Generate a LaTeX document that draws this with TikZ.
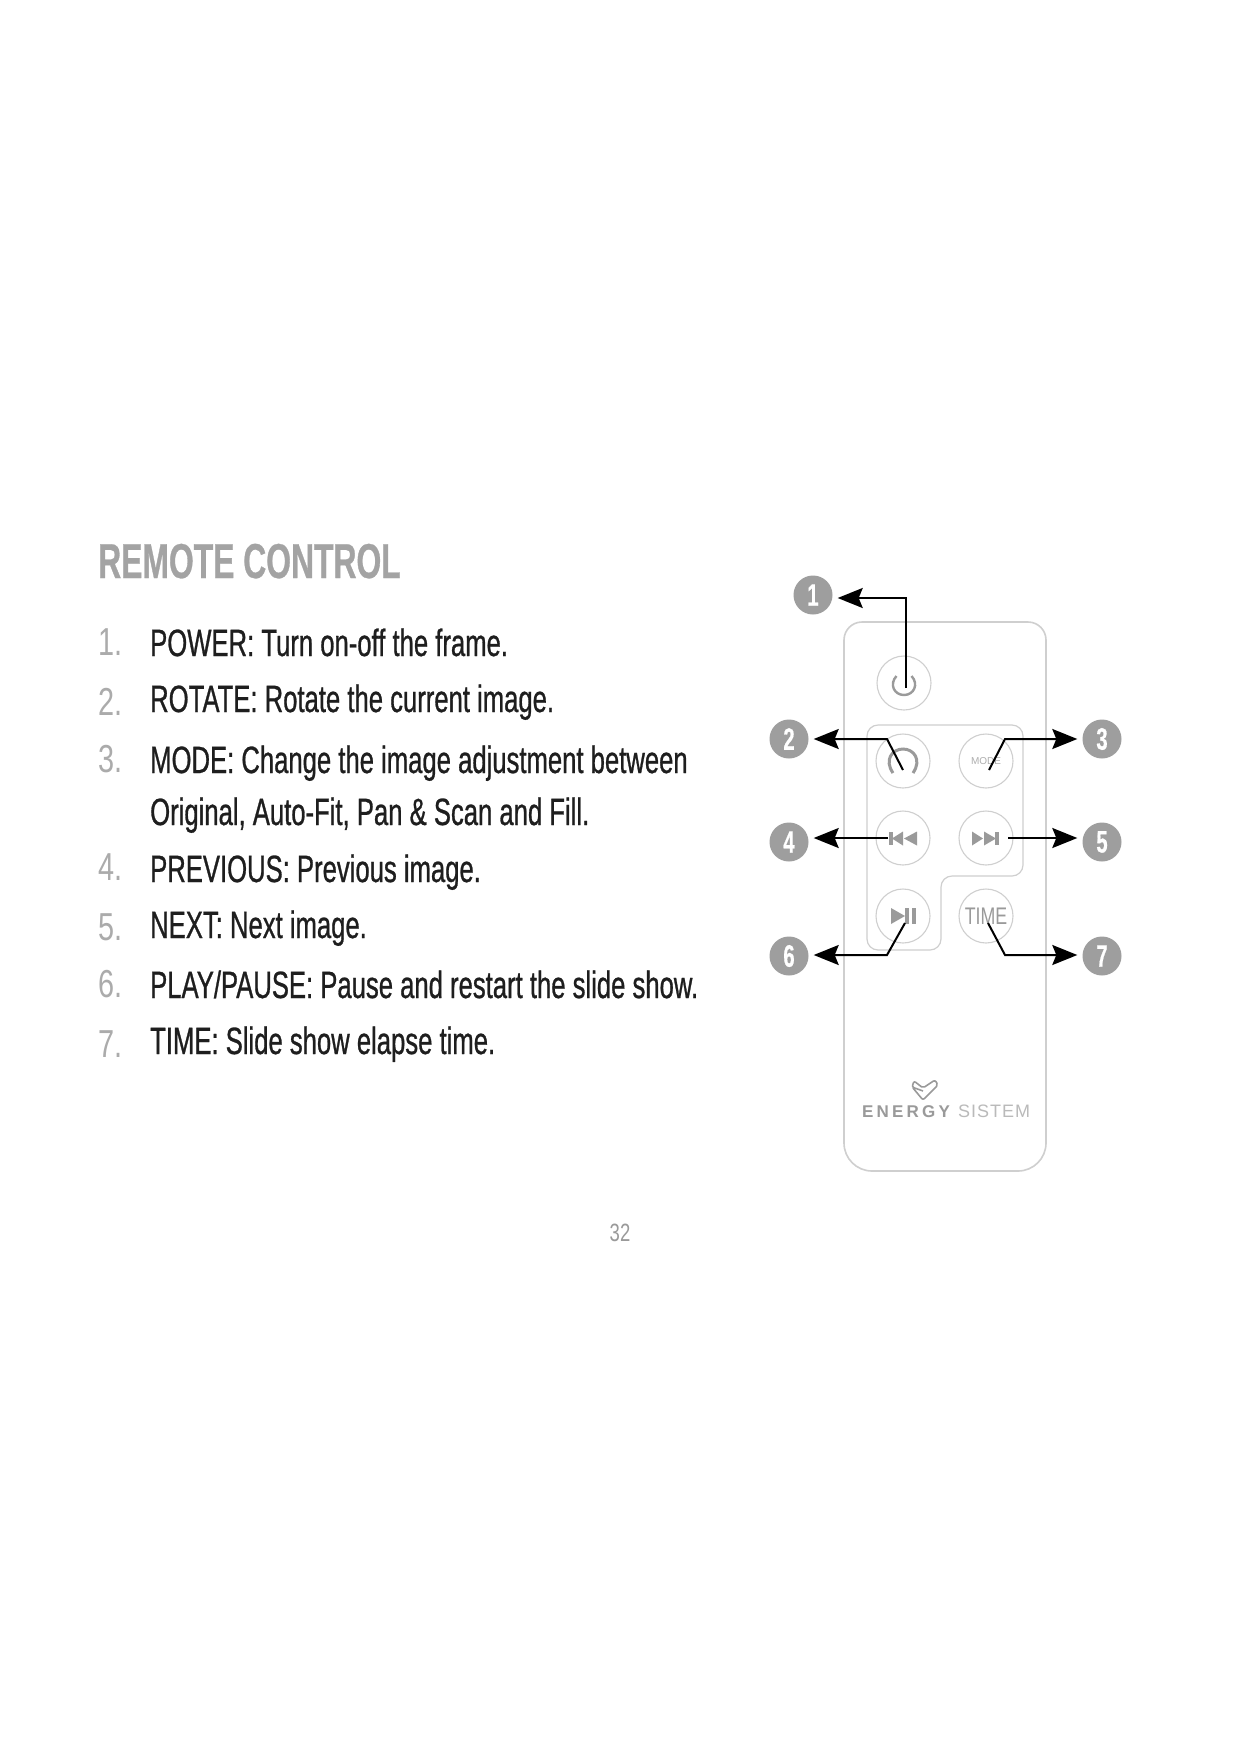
\documentclass[tikz,border=0pt]{standalone}
\usepackage{fontspec}
\setmainfont{Liberation Sans}
\newfontfamily\cond[FakeStretch=0.675,FakeBold=0.7]{Liberation Sans}
\newfontfamily\condtitle[FakeStretch=0.65,FakeBold=0.6]{Liberation Sans}
\newfontfamily\condthin[FakeStretch=0.74]{Liberation Sans}
\usetikzlibrary{arrows.meta}
\definecolor{numgray}{HTML}{ABABAB}
\definecolor{titlegray}{HTML}{A3A3A3}
\definecolor{linegray}{HTML}{CFCFCF}
\definecolor{icongray}{HTML}{9A9A9A}
\definecolor{badgegray}{HTML}{9E9E9E}
\definecolor{inktext}{HTML}{1E1E1E}
\tikzset{
  x=1pt,y=-1pt,
  lbl/.style={anchor=base west,inner sep=0pt,text=inktext,font=\cond\fontsize{38}{38}\selectfont},
  numlbl/.style={anchor=base west,inner sep=0pt,text=numgray,font=\condthin\fontsize{39}{39}\selectfont},
  titlelbl/.style={anchor=base west,inner sep=0pt,text=titlegray,font=\condtitle\bfseries\fontsize{49}{49}\selectfont},
  btn/.style={circle,draw=linegray,line width=1.1pt,minimum size=54pt,inner sep=0pt},
  badge/.style={circle,fill=badgegray,minimum size=39pt,inner sep=0pt,text=white,font=\condtitle\bfseries\fontsize{31}{31}\selectfont},
  shell/.style={draw=linegray,line width=1.6pt},
  arr/.style={draw=black,line width=2pt,-{Stealth[length=25pt,width=20pt,inset=4pt]},shorten >=5pt},
  ico/.style={draw=icongray,line width=2.4pt},
  icof/.style={fill=icongray},
}
\begin{document}
\begin{tikzpicture}
\useasboundingbox (0,0) rectangle (1241,1754);
\fill[white] (0,0) rectangle (1241,1754);

% texts
\node[titlelbl] (title) at (98,578) {REMOTE CONTROL};
\node[numlbl] (n1) at (98,655) {1.};
\node[numlbl] (n2) at (98,715) {2.};
\node[numlbl] (n3) at (98,772) {3.};
\node[numlbl] (n4) at (98,880) {4.};
\node[numlbl] (n5) at (98,940) {5.};
\node[numlbl] (n6) at (98,997) {6.};
\node[numlbl] (n7) at (98,1057) {7.};
\node[lbl] (t1) at (150,656) {POWER: Turn on-off the frame.};
\node[lbl] (t2) at (150,712) {ROTATE: Rotate the current image.};
\node[lbl] (t3) at (150,773) {MODE: Change the image adjustment between};
\node[lbl] (t3b) at (150,825) {Original, Auto-Fit, Pan \& Scan and Fill.};
\node[lbl] (t4) at (150,882) {PREVIOUS: Previous image.};
\node[lbl] (t5) at (150,938) {NEXT: Next image.};
\node[lbl] (t6) at (150,998) {PLAY/PAUSE: Pause and restart the slide show.};
\node[lbl] (t7) at (150,1054) {TIME: Slide show elapse time.};
\node[anchor=base,inner sep=0pt,text=numgray!90!black,font=\condthin\fontsize{25}{25}\selectfont] (page) at (620,1241) {32};

% remote body
\draw[shell] (844,640) arc[start angle=180,end angle=270,radius=18] -- (1028,622)
  arc[start angle=-90,end angle=0,radius=18] -- (1046,1143)
  arc[start angle=0,end angle=90,radius=28] -- (872,1171)
  arc[start angle=90,end angle=180,radius=28] -- cycle;
% key panel
\draw[shell,line width=1.2pt,rounded corners=11pt] (867,725) -- (1023,725) -- (1023,876) -- (941,876) -- (941,950) -- (867,950) -- cycle;

% buttons
\node[btn] (power) at (904,683) {};
\node[btn] (rotate) at (903,761) {};
\node[btn,font=\fontsize{10}{10}\selectfont,text=icongray!80] (mode) at (986,761) {MODE};
\node[btn] (prev) at (903,838) {};
\node[btn] (next) at (986,838) {};
\node[btn] (play) at (903,916) {};
\node[btn,font=\condthin\fontsize{24}{24}\selectfont,text=icongray] (time) at (986,916) {TIME};

% icons
\draw[ico,line width=2.4pt] (896.5,676) .. controls (889,684) and (894,695) .. (904,695) .. controls (914,695) and (919,684) .. (911.5,676);
\draw[ico,line width=3pt] (893,773) .. controls (884,760) and (892,749) .. (903,749) .. controls (914,749) and (922,760) .. (913,773);
% prev
\fill[icof] (889,832) rectangle (893,845);
\fill[icof] (892,838.5) -- (903,831.5) -- (903,845.5) -- cycle;
\fill[icof] (904,838.5) -- (917,831.5) -- (917,845.5) -- cycle;
% next
\fill[icof] (972,831.5) -- (983,838.5) -- (972,845.5) -- cycle;
\fill[icof] (984,831.5) -- (996,838.5) -- (984,845.5) -- cycle;
\fill[icof] (995,832) rectangle (999,845);
% play pause
\fill[icof] (891,908) -- (905,916) -- (891,924) -- cycle;
\fill[icof] (905,908) rectangle (909,924);
\fill[icof] (912,908) rectangle (915.5,924);

% badges
\node[badge] (b1) at (813,595) {1};
\node[badge] (b2) at (789,739) {2};
\node[badge] (b3) at (1102,739) {3};
\node[badge] (b4) at (789,842) {4};
\node[badge] (b5) at (1102,842) {5};
\node[badge] (b6) at (789,956) {6};
\node[badge] (b7) at (1102,956) {7};

% connector anchors
\coordinate (s1) at (905.5,688);
\coordinate (c1) at (905.5,598);
\coordinate (e1) at (b1.east |- c1);
\coordinate (s2) at (903,770);
\coordinate (c2) at (887,739);
\coordinate (s3) at (989,770);
\coordinate (c3) at (1005,739);
\coordinate (s4) at (888,838);
\coordinate (e4) at (b4.east |- s4);
\coordinate (s5) at (1008,838);
\coordinate (e5) at (b5.west |- s5);
\coordinate (s6) at (905,923);
\coordinate (c6) at (887,955);
\coordinate (s7) at (988,923);
\coordinate (c7) at (1005,955);
\coordinate (e6) at (b6.east |- c6);
\coordinate (e7) at (b7.west |- c7);

\draw[arr] (s1) -- (c1) -- (e1);
\draw[arr] (s2) -- (c2) -- (b2.east);
\draw[arr] (s3) -- (c3) -- (b3.west);
\draw[arr] (s4) -- (e4);
\draw[arr] (s5) -- (e5);
\draw[arr] (s6) -- (c6) -- (e6);
\draw[arr] (s7) -- (c7) -- (e7);

% logo
\draw[draw=icongray,line width=1.6pt,line join=round,rounded corners=2pt] (923,1091) -- (912,1087) -- (914,1081) -- (923,1088) -- (935,1080) -- (938,1085) -- (923,1100) -- (913,1088);
\node[anchor=base west,inner sep=0pt,text=icongray,font=\bfseries\fontsize{17}{17}\selectfont] (logoa) at (862,1117) {E\kern3.2pt N\kern3.2pt E\kern3.2pt R\kern3.2pt G\kern3.2pt Y};
\node[anchor=base west,inner sep=0pt,text=linegray!90!black,font=\fontsize{18}{18}\selectfont] (logob) at (958,1117) {S\kern1pt I\kern1pt S\kern1pt T\kern1pt E\kern1pt M};
\end{tikzpicture}
\end{document}
